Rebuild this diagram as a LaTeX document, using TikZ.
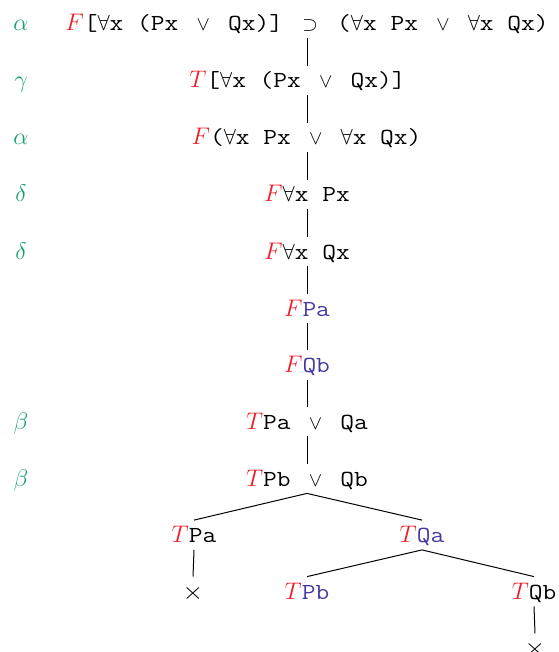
\documentclass[tikz,border=0pt]{standalone}
\usepackage{graphicx}
\usepackage{xcolor}
\definecolor{tred}{RGB}{237,30,40}
\definecolor{tgreen}{RGB}{20,160,105}
\definecolor{tblue}{RGB}{66,60,160}
\newcommand\tw[1]{\scalebox{1.16}[1]{\fontsize{11.5}{13}\ttfamily #1}}
\newcommand\sm[1]{{\fontsize{10}{12}\selectfont${}#1{}$}}
\newcommand\Fr{\textcolor{tred}{\fontsize{13}{15}\selectfont$F$}}
\newcommand\Tr{\textcolor{tred}{\fontsize{13}{15}\selectfont$T$}}
\newcommand\Fa{{\fontsize{11}{13}\selectfont$\forall$}}
\newcommand\Vo{\sm{\vee}}
\newcommand\Bl[1]{\textcolor{tblue}{\tw{#1}}}
\newcommand\Gl[1]{\textcolor{tgreen}{$#1$}}
\newcommand\Xx{\scalebox{1.1}[1]{\fontsize{13}{15}\selectfont$\times$}}
\tikzset{
  tn/.style={anchor=base, inner sep=0pt, text height=11pt, text depth=3.5pt,
             font=\fontsize{10.5}{12}\selectfont},
  lab/.style={anchor=base, inner sep=0pt, font=\fontsize{13}{15}\selectfont},
  br/.style={draw=black, line width=0.5pt}
}
\begin{document}
\begin{tikzpicture}[x=0.5pt,y=-0.5pt]
\useasboundingbox (0,0) rectangle (558,652);
\coordinate (trunk) at (307,0);
% labels
\node[lab] (l1) at (21,31) {\Gl{\alpha}};
\node[lab] (l2) at (21,88) {\Gl{\gamma}};
\node[lab] (l3) at (21,145) {\Gl{\alpha}};
\node[lab] (l4) at (21,202) {\Gl{\delta}};
\node[lab] (l5) at (21,259) {\Gl{\delta}};
\node[lab] (l8) at (21,429) {\Gl{\beta}};
\node[lab] (l9) at (21,486) {\Gl{\beta}};
% trunk
\node[tn] (r1) at (307,31) {\Fr\tw{[}\Fa\tw{x (Px }\Vo\tw{ Qx)] }\sm{\supset}\tw{ (}\Fa\tw{x Px }\Vo\tw{ }\Fa\tw{x Qx)}};
\node[tn] (r2) at (297.5,88) {\Tr\tw{[}\Fa\tw{x (Px }\Vo\tw{ Qx)]}};
\node[tn] (r3) at (306.5,145) {\Fr\tw{(}\Fa\tw{x Px }\Vo\tw{ }\Fa\tw{x Qx)}};
\node[tn] (r4) at (307,202) {\Fr\Fa\tw{x Px}};
\node[tn] (r5) at (307,259) {\Fr\Fa\tw{x Qx}};
\node[tn] (r6) at (307,316) {\Fr\Bl{Pa}};
\node[tn] (r7) at (307,372.5) {\Fr\Bl{Qb}};
\node[tn] (r8) at (307,429) {\Tr\tw{Pa }\Vo\tw{ Qa}};
\node[tn] (r9) at (307,486) {\Tr\tw{Pb }\Vo\tw{ Qb}};
\node[tn] (a1) at (194,542.5) {\Tr\tw{Pa}};
\node[tn] (b1) at (422,542.5) {\Tr\Bl{Qa}};
\node[tn] (a2) at (193,599) {\Xx};
\node[tn] (b2) at (307,599) {\Tr\Bl{Pb}};
\node[tn] (c2) at (534,599) {\Tr\tw{Qb}};
\node[tn] (c3) at (535,655.7) {\Xx};
% connectors
\draw[br] (r1.south -| trunk) -- (r2.north -| trunk);
\draw[br] (r2.south -| trunk) -- (r3.north -| trunk);
\draw[br] (r3.south -| trunk) -- (r4.north -| trunk);
\draw[br] (r4.south -| trunk) -- (r5.north -| trunk);
\draw[br] (r5.south -| trunk) -- (r6.north -| trunk);
\draw[br] (r6.south -| trunk) -- (r7.north -| trunk);
\draw[br] (r7.south -| trunk) -- (r8.north -| trunk);
\draw[br] (r8.south -| trunk) -- (r9.north -| trunk);
\draw[br] (a1.north) -- (r9.south) -- (b1.north);
\draw[br] (a1.south) -- (a2.north);
\draw[br] (b2.north) -- (b1.south) -- (c2.north);
\draw[br] (c2.south) -- (c3.north);
\end{tikzpicture}
\end{document}
